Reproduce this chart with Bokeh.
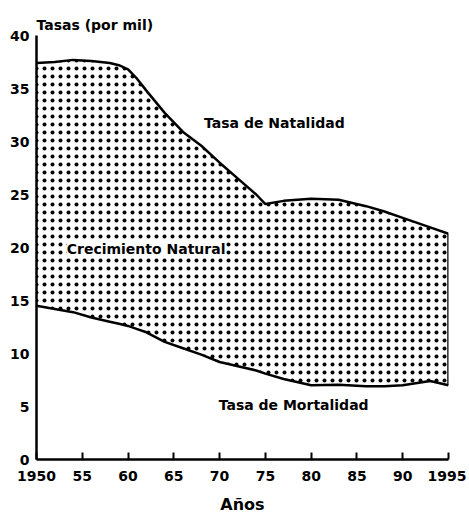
from bokeh.plotting import figure
from bokeh.models import FixedTicker, Range1d, Label, ColumnDataSource
from bokeh.embed import file_html
from bokeh.resources import INLINE

years = [1950, 1952, 1954, 1956, 1958, 1959, 1960, 1961, 1962, 1964, 1966, 1968,
         1970, 1972, 1974, 1975, 1977, 1980, 1983, 1986, 1988, 1990, 1993, 1995]
natalidad = [37.4, 37.5, 37.7, 37.6, 37.4, 37.2, 36.8, 35.9, 34.8, 32.7, 30.9, 29.6,
             28.0, 26.5, 25.0, 24.1, 24.4, 24.6, 24.5, 23.9, 23.4, 22.8, 21.9, 21.3]
mortalidad = [14.5, 14.2, 13.9, 13.4, 13.0, 12.8, 12.6, 12.3, 12.0, 11.1, 10.5, 9.9,
              9.2, 8.8, 8.4, 8.1, 7.6, 7.0, 7.05, 6.9, 6.9, 7.0, 7.4, 7.0]

x_ticks = [1950, 1955, 1960, 1965, 1970, 1975, 1980, 1985, 1990, 1995]
x_tick_labels = ["1950", "55", "60", "65", "70", "75", "80", "85", "90", "1995"]
y_ticks = [0, 5, 10, 15, 20, 25, 30, 35, 40]

FONT = "DejaVu Sans"

src = ColumnDataSource(dict(x=years, nat=natalidad, mort=mortalidad))

p = figure(width=466, height=516, output_backend="svg", toolbar_location=None,
           x_range=Range1d(1950, 1995), y_range=Range1d(0, 40),
           min_border_left=36, min_border_right=18, min_border_top=35,
           min_border_bottom=57)

p.title.text = "Tasas (por mil)"
p.title.text_font = FONT
p.title.text_font_size = "14px"
p.title.text_font_style = "bold"
p.title.text_color = "black"
p.title.align = "left"
p.title.offset = 0
p.title.standoff = 6

p.outline_line_color = None
p.xgrid.visible = False
p.ygrid.visible = False
p.background_fill_color = "white"
p.border_fill_color = "white"

p.varea(x="x", y1="mort", y2="nat", source=src, fill_alpha=0,
        hatch_pattern="dot", hatch_color="black", hatch_scale=8, hatch_weight=1.0)
p.line(x="x", y="nat", source=src, line_color="black", line_width=2.5)
p.line(x="x", y="mort", source=src, line_color="black", line_width=2.5)
p.segment(x0=[years[-1]], y0=[mortalidad[-1]], x1=[years[-1]], y1=[natalidad[-1]],
          line_color="black", line_width=2.5)

# axes
p.xaxis.ticker = FixedTicker(ticks=x_ticks)
p.xaxis.major_label_overrides = {t: l for t, l in zip(x_ticks, x_tick_labels)}
p.xaxis.axis_label = "Años"
p.xaxis.axis_label_text_font = FONT
p.xaxis.axis_label_text_font_size = "16px"
p.xaxis.axis_label_text_font_style = "bold"
p.xaxis.axis_label_text_color = "black"
p.xaxis.axis_label_standoff = 11
p.xaxis.major_tick_in = 7
p.xaxis.major_tick_out = 0
p.xaxis.minor_tick_line_color = None
p.xaxis.major_label_standoff = 11

p.yaxis.ticker = FixedTicker(ticks=y_ticks)
p.yaxis.major_tick_in = 0
p.yaxis.major_tick_out = 0
p.yaxis.minor_tick_line_color = None
p.yaxis.major_label_standoff = 7

for ax in (p.xaxis, p.yaxis):
    ax.axis_line_width = 2.5
    ax.axis_line_color = "black"
    ax.major_tick_line_width = 2
    ax.major_tick_line_color = "black"
    ax.major_label_text_font = FONT
    ax.major_label_text_font_size = "14px"
    ax.major_label_text_font_style = "bold"
    ax.major_label_text_color = "black"

labels = [
    ("Tasa de Natalidad", 1968.3, 31.7),
    ("Crecimiento Natural", 1953.3, 19.9),
    ("Tasa de Mortalidad", 1969.9, 5.1),
]
for txt, lx, ly in labels:
    p.add_layout(Label(x=lx, y=ly, text=txt, text_font=FONT, text_font_size="14px",
                       text_font_style="bold", text_baseline="middle",
                       text_align="left", text_color="black",
                       background_fill_color="white" if txt.startswith("Crec") else None))

open("out.html", "w").write(file_html(p, INLINE))
